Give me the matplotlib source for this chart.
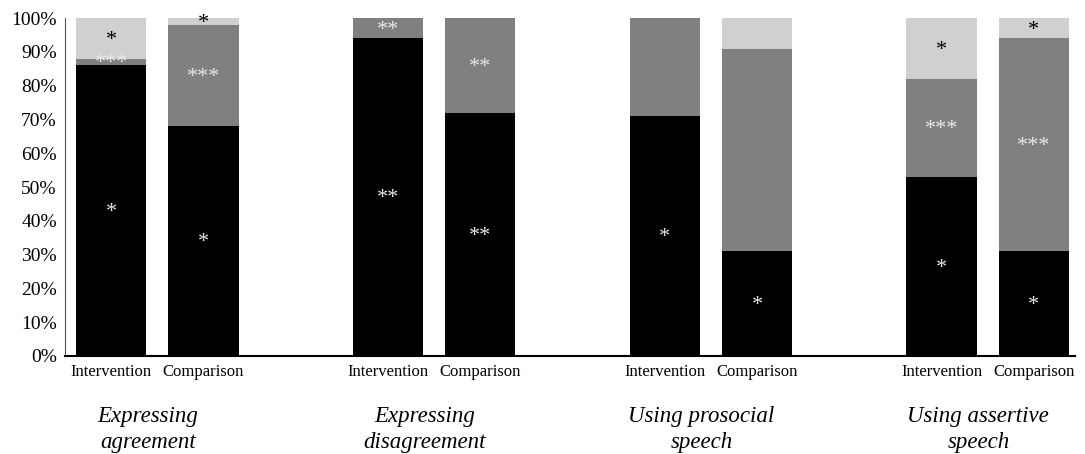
import matplotlib
matplotlib.use("Agg")
import matplotlib.pyplot as plt
import matplotlib.transforms as mtransforms

# --- data ---
categories = ['Expressing\nagreement', 'Expressing\ndisagreement',
              'Using prosocial\nspeech', 'Using assertive\nspeech']
bar_labels = ['Intervention', 'Comparison'] * 4

black_vals = [86, 68, 94, 72, 71, 31, 53, 31]
gray_vals = [2, 30, 6, 28, 29, 60, 29, 63]
light_vals = [12, 2, 0, 0, 0, 9, 18, 6]

black_marks = ['*', '*', '**', '**', '*', '*', '*', '*']
gray_marks = ['***', '***', '**', '**', '', '', '***', '***']
light_marks = ['*', '*', '', '', '', '', '*', '*']

plt.rcParams['font.family'] = ['Liberation Serif', 'DejaVu Serif']

fig = plt.figure(figsize=(10.85, 4.54), dpi=100)
ax = fig.add_axes([0.06, 0.216, 0.931, 0.744])

# two bars per group, one empty slot between groups
xpos = []
for g in range(len(categories)):
    xpos += [g * 3, g * 3 + 1]

width = 0.76
bottoms2 = [b + g for b, g in zip(black_vals, gray_vals)]
ax.bar(xpos, black_vals, width, color='black')
ax.bar(xpos, gray_vals, width, bottom=black_vals, color='#808080')
ax.bar(xpos, light_vals, width, bottom=bottoms2, color='#d0d0d0')

# significance marks at segment centres
for i, x in enumerate(xpos):
    segs = [
        (black_marks[i], 0, black_vals[i], '#e8e8e8'),
        (gray_marks[i], black_vals[i], gray_vals[i], '#e8e8e8'),
        (light_marks[i], bottoms2[i], light_vals[i], 'black'),
    ]
    for mark, base, h, col in segs:
        if mark:
            ax.annotate(mark, (x, base + h / 2), xytext=(0, -4.5), textcoords='offset points',
                        ha='center', va='baseline', color=col, fontsize=16)

ax.set_ylim(0, 100)
ax.set_xlim(-0.5, 10.45)
ax.set_yticks(range(0, 101, 10))
ax.set_yticklabels([f'{v}%' for v in range(0, 101, 10)], fontsize=14)
ax.set_xticks(xpos)
ax.set_xticklabels(bar_labels, fontsize=12)
ax.tick_params(axis='both', length=0)
ax.tick_params(axis='y', pad=6)
ax.tick_params(axis='x', pad=6)

for side in ['top', 'right']:
    ax.spines[side].set_visible(False)
ax.spines['left'].set_color('#555555')
ax.spines['left'].set_linewidth(0.8)
ax.spines['bottom'].set_linewidth(1.5)

trans = mtransforms.blended_transform_factory(ax.transData, ax.transAxes)
for g, cat in enumerate(categories):
    ax.text(g * 3 + 0.4, -0.218, cat, transform=trans, ha='center', va='center',
            fontsize=16.5, style='italic', linespacing=1.3)

fig.savefig('out.png', dpi=100)
